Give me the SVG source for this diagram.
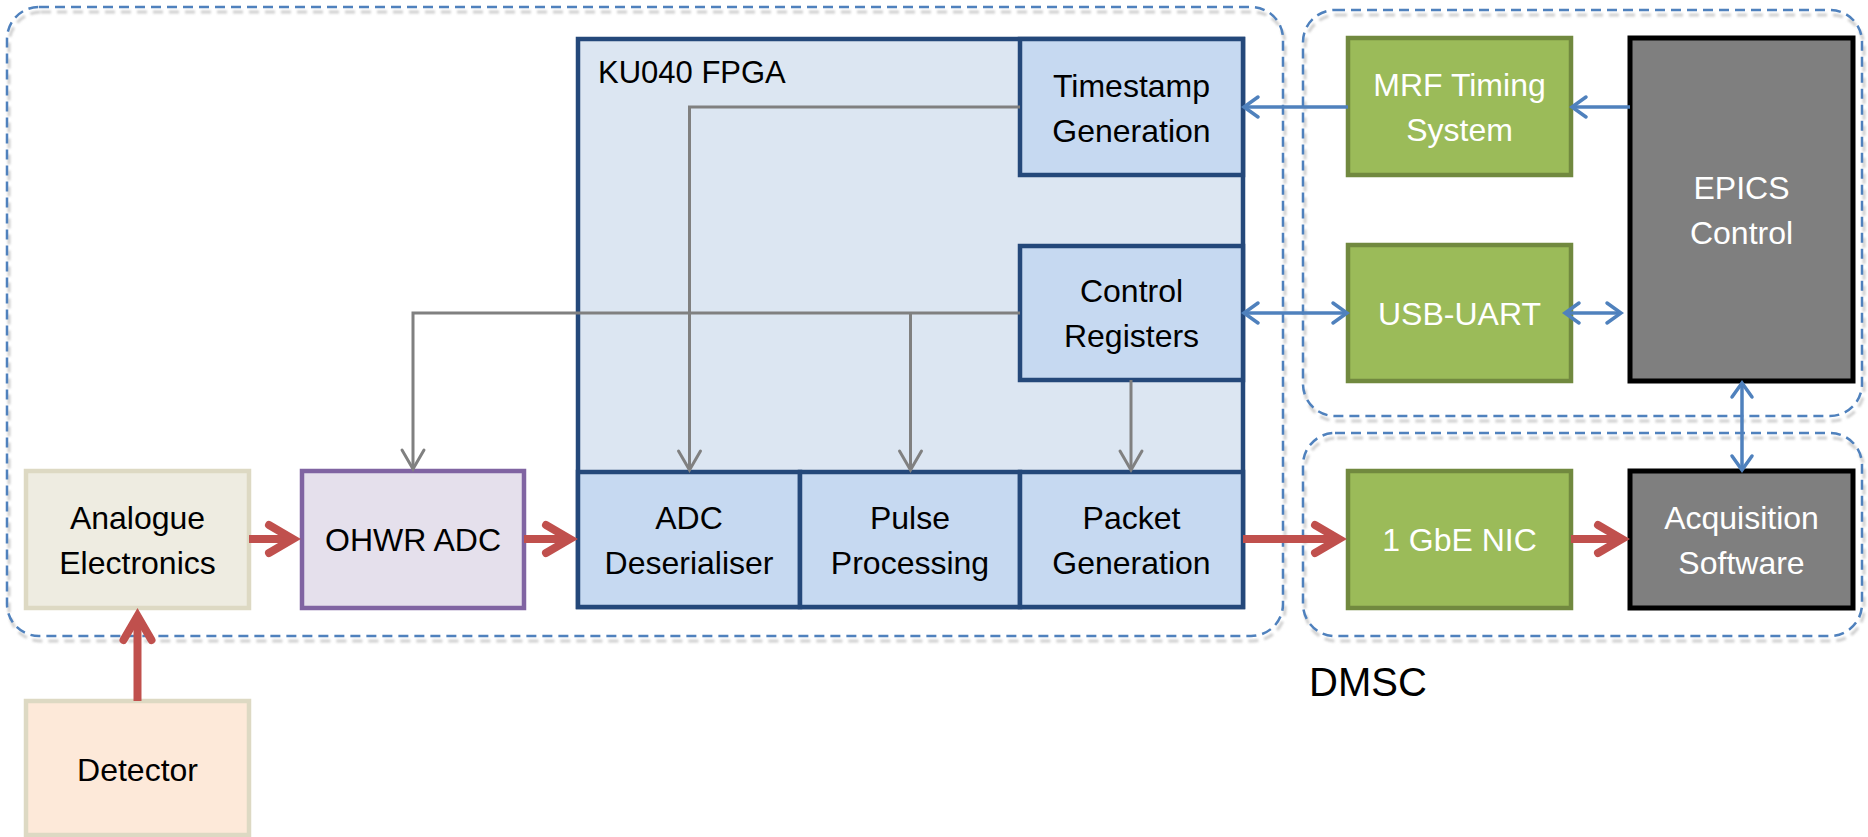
<svg xmlns="http://www.w3.org/2000/svg" width="1868" height="837" viewBox="0 0 1868 837">
<style>
.grp{fill:none;stroke:#4F81BD;stroke-width:2.5;stroke-dasharray:10 6}
.shd{fill:none;stroke:#cfcfcf;stroke-width:3;stroke-dasharray:10 6}
.fpga{fill:#DCE6F2;stroke:#24487A;stroke-width:4.5}
.blk{fill:#C6D9F1;stroke:#24487A;stroke-width:4.5}
.ana{fill:#EEECE1;stroke:#DDD9C3;stroke-width:4.5}
.det{fill:#FDE9D9;stroke:#DDD9C3;stroke-width:4.5}
.adc{fill:#E5E0EC;stroke:#8064A2;stroke-width:4.5}
.grn{fill:#9BBB59;stroke:#71893F;stroke-width:4.5}
.gry{fill:#7F7F7F;stroke:#000;stroke-width:5}
text{font-family:"Liberation Sans",Arial,sans-serif;font-size:32px;fill:#000;text-anchor:middle}
.w{fill:#fff}
.red{fill:none;stroke:#C0504D;stroke-width:8}
.blu{fill:none;stroke:#4F81BD;stroke-width:3.5}
.gl{fill:none;stroke:#808080;stroke-width:3}
</style>
<defs>
<filter id="blur" x="-5%" y="-5%" width="110%" height="110%"><feGaussianBlur stdDeviation="1.2"/></filter>
<marker id="mr" markerUnits="userSpaceOnUse" orient="auto" overflow="visible" markerWidth="10" markerHeight="10" refX="0" refY="0">
<path d="M-22,-14 L2,0 L-22,14" fill="none" stroke="#C0504D" stroke-width="8" stroke-linecap="round" stroke-linejoin="miter"/>
</marker>
<marker id="mb" markerUnits="userSpaceOnUse" orient="auto-start-reverse" overflow="visible" markerWidth="10" markerHeight="10" refX="0" refY="0">
<path d="M-13,-10 L1,0 L-13,10" fill="none" stroke="#4F81BD" stroke-width="3.5" stroke-linecap="round" stroke-linejoin="miter"/>
</marker>
<marker id="mg" markerUnits="userSpaceOnUse" orient="auto" overflow="visible" markerWidth="10" markerHeight="10" refX="0" refY="0">
<path d="M-19,-11 L0,0 L-19,11" fill="none" stroke="#808080" stroke-width="3" stroke-linecap="round" stroke-linejoin="miter"/>
</marker>
</defs>
<rect width="1868" height="837" fill="#fff"/>
<g id="group-shadows" filter="url(#blur)" transform="translate(2,5)">
<rect class="shd" x="7" y="7" width="1276" height="629" rx="32"/>
<rect class="shd" x="1303" y="10" width="559" height="406" rx="32"/>
<rect class="shd" x="1303" y="433" width="559" height="203" rx="32"/>
</g>
<g id="group-left"><rect class="grp" x="7" y="7" width="1276" height="629" rx="32"/></g>
<g id="group-dmsc-top"><rect class="grp" x="1303" y="10" width="559" height="406" rx="32"/></g>
<g id="group-dmsc-bottom"><rect class="grp" x="1303" y="433" width="559" height="203" rx="32"/></g>
<g id="label-dmsc"><text x="1309" y="696" style="font-size:40px;text-anchor:start">DMSC</text></g>

<g id="fpga"><rect class="fpga" x="578" y="39" width="665" height="568"/><text x="598" y="83" style="font-size:31px;text-anchor:start">KU040 FPGA</text></g>
<g id="timestamp"><rect class="blk" x="1020" y="39" width="223" height="136"/><text x="1131.5" y="97">Timestamp</text><text x="1131.5" y="142">Generation</text></g>
<g id="control-registers"><rect class="blk" x="1020" y="246" width="223" height="134"/><text x="1131.5" y="302">Control</text><text x="1131.5" y="347">Registers</text></g>
<g id="adc-deserialiser"><rect class="blk" x="578" y="472" width="222" height="135"/><text x="689" y="529">ADC</text><text x="689" y="574">Deserialiser</text></g>
<g id="pulse-processing"><rect class="blk" x="800" y="472" width="220" height="135"/><text x="910" y="529">Pulse</text><text x="910" y="574">Processing</text></g>
<g id="packet-generation"><rect class="blk" x="1020" y="472" width="223" height="135"/><text x="1131.5" y="529">Packet</text><text x="1131.5" y="574">Generation</text></g>
<g id="analogue"><rect class="ana" x="26" y="471" width="223" height="137"/><text x="137.5" y="529">Analogue</text><text x="137.5" y="574">Electronics</text></g>
<g id="ohwr-adc"><rect class="adc" x="302" y="471" width="222" height="137"/><text x="413" y="551">OHWR ADC</text></g>
<g id="detector"><rect class="det" x="26" y="701" width="223" height="134"/><text x="137.5" y="781">Detector</text></g>
<g id="mrf"><rect class="grn" x="1348" y="38" width="223" height="137"/><text class="w" x="1459.5" y="96">MRF Timing</text><text class="w" x="1459.5" y="141">System</text></g>
<g id="usb-uart"><rect class="grn" x="1348" y="245" width="223" height="136"/><text class="w" x="1459.5" y="325">USB-UART</text></g>
<g id="epics"><rect class="gry" x="1630" y="38" width="223" height="343"/><text class="w" x="1741.5" y="199">EPICS</text><text class="w" x="1741.5" y="244">Control</text></g>
<g id="nic"><rect class="grn" x="1348" y="471" width="223" height="137"/><text class="w" x="1459.5" y="551">1 GbE NIC</text></g>
<g id="acquisition"><rect class="gry" x="1630" y="471" width="223" height="137"/><text class="w" x="1741.5" y="529">Acquisition</text><text class="w" x="1741.5" y="574">Software</text></g>

<g id="connectors">
<path class="gl" d="M1020,107 H689.5 V470" marker-end="url(#mg)"/>
<path class="gl" d="M1020,313 H413 V469" marker-end="url(#mg)"/>
<path class="gl" d="M910.5,313 V470" marker-end="url(#mg)"/>
<path class="gl" d="M1131,380 V470" marker-end="url(#mg)"/>
<path class="red" d="M137.5,701 V618" marker-end="url(#mr)"/>
<path class="red" d="M249,539 H291" marker-end="url(#mr)"/>
<path class="red" d="M524,539 H568" marker-end="url(#mr)"/>
<path class="red" d="M1243,539 H1337" marker-end="url(#mr)"/>
<path class="red" d="M1571,539 H1620" marker-end="url(#mr)"/>
<path class="blu" d="M1348,107 H1245" marker-end="url(#mb)"/>
<path class="blu" d="M1630,107 H1573" marker-end="url(#mb)"/>
<path class="blu" d="M1245,313 H1346" marker-start="url(#mb)" marker-end="url(#mb)"/>
<path class="blu" d="M1566,313 H1620" marker-start="url(#mb)" marker-end="url(#mb)"/>
<path class="blu" d="M1742,384 V469" marker-start="url(#mb)" marker-end="url(#mb)"/>
</g>
</svg>
